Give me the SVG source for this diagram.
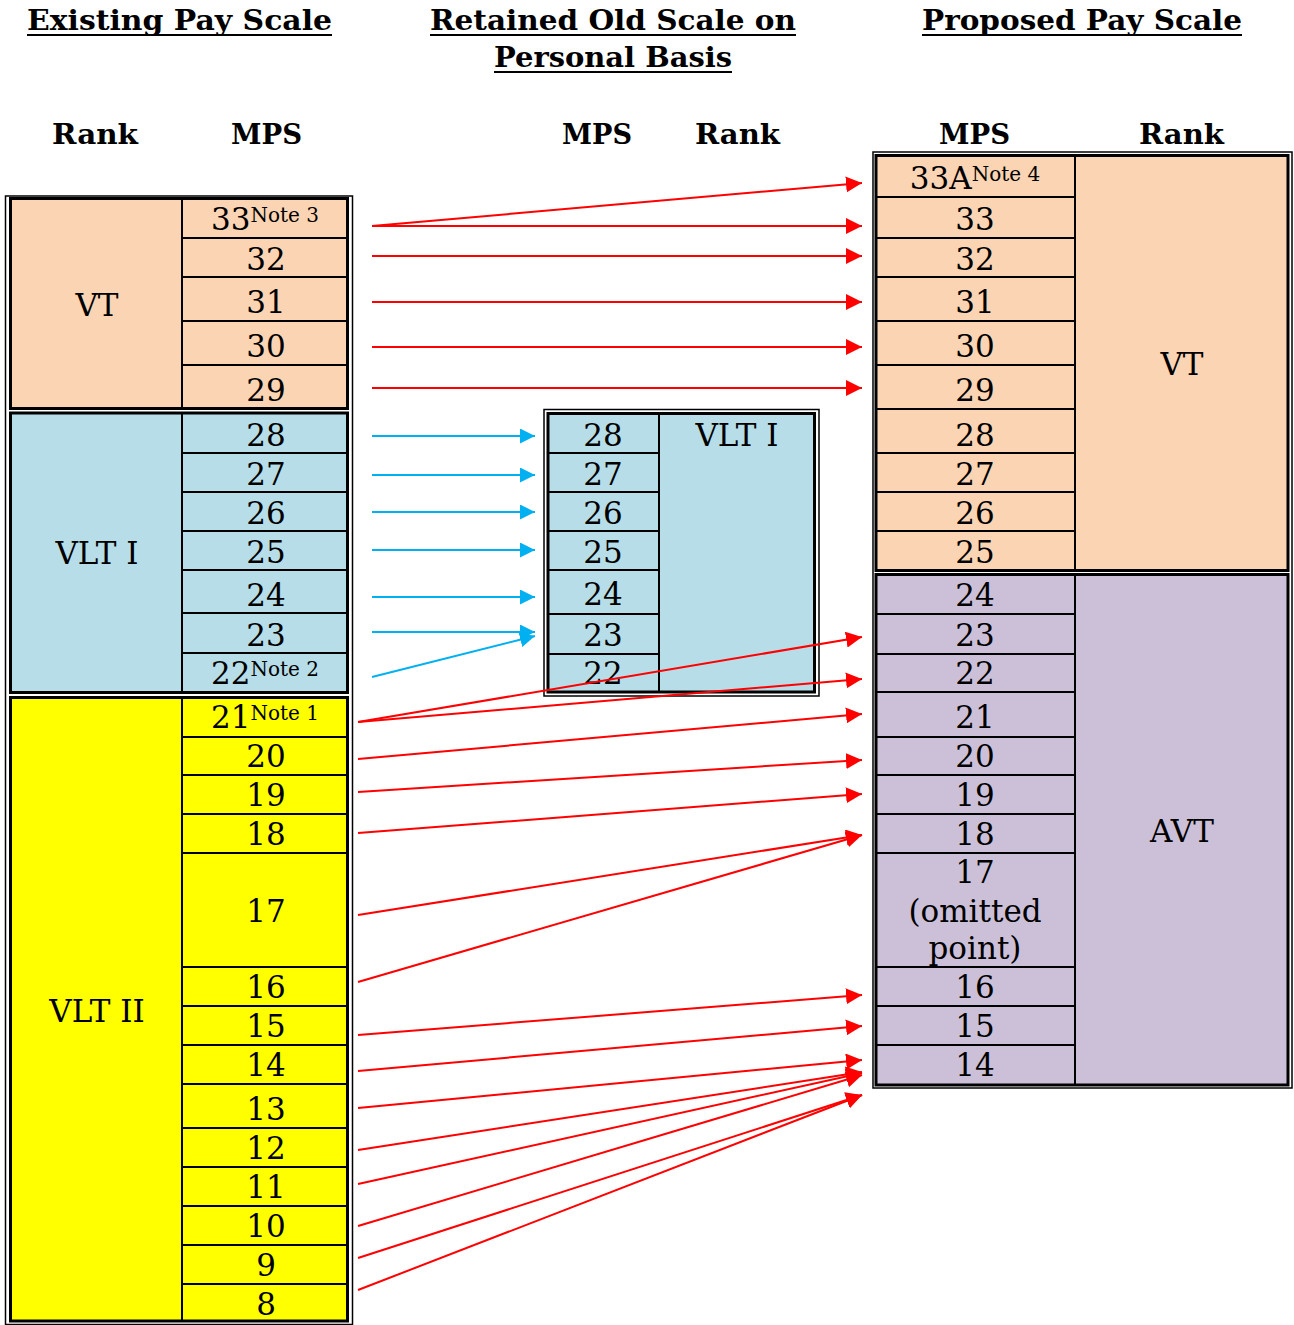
<svg xmlns="http://www.w3.org/2000/svg" width="1294" height="1325" viewBox="0 0 1294 1325">
<style>
.h{font-family:"DejaVu Serif",serif;font-weight:bold;font-size:28px;fill:#000}
.c{font-family:"DejaVu Serif",serif;font-size:31px;fill:#000;text-anchor:middle}
.sup{font-size:20px}
.cell{stroke:#000;stroke-width:2}
.sec{fill:none;stroke:#000;stroke-width:3}
.outer{fill:none;stroke:#000;stroke-width:1.5}
.ul{stroke:#000;stroke-width:2}
.vt{fill:#FBD4B4}.vl1{fill:#B6DDE8}.vl2{fill:#FFFF00}.avt{fill:#CCC0D9}
.ar{stroke:#FF0000;stroke-width:2;fill:none;marker-end:url(#ahR)}
.ab{stroke:#00B0F0;stroke-width:2;fill:none;marker-end:url(#ahB)}
</style>
<defs>
<marker id="ahR" markerUnits="userSpaceOnUse" markerWidth="16" markerHeight="16" viewBox="0 0 16 16" refX="16" refY="8" orient="auto"><path d="M0,0 L16,8 L0,16 z" fill="#FF0000"/></marker>
<marker id="ahB" markerUnits="userSpaceOnUse" markerWidth="15" markerHeight="15" viewBox="0 0 15 15" refX="15" refY="7.5" orient="auto"><path d="M0,0 L15,7.5 L0,15 z" fill="#00B0F0"/></marker>
</defs>
<rect width="1294" height="1325" fill="#fff"/>

<g id="headings">
<text class="h" x="27" y="30" textLength="305" lengthAdjust="spacingAndGlyphs">Existing Pay Scale</text>
<line class="ul" x1="27" y1="35" x2="332" y2="35"/>
<text class="h" x="430" y="30" textLength="366" lengthAdjust="spacingAndGlyphs">Retained Old Scale on</text>
<line class="ul" x1="430" y1="35" x2="796" y2="35"/>
<text class="h" x="494" y="67" textLength="238" lengthAdjust="spacingAndGlyphs">Personal Basis</text>
<line class="ul" x1="494" y1="72" x2="732" y2="72"/>
<text class="h" x="922" y="30" textLength="320" lengthAdjust="spacingAndGlyphs">Proposed Pay Scale</text>
<line class="ul" x1="922" y1="35" x2="1242" y2="35"/>
<text class="h" x="52" y="144" textLength="86" lengthAdjust="spacingAndGlyphs">Rank</text>
<text class="h" x="231" y="144" textLength="71" lengthAdjust="spacingAndGlyphs">MPS</text>
<text class="h" x="562" y="144" textLength="70" lengthAdjust="spacingAndGlyphs">MPS</text>
<text class="h" x="695" y="144" textLength="85" lengthAdjust="spacingAndGlyphs">Rank</text>
<text class="h" x="939" y="144" textLength="71" lengthAdjust="spacingAndGlyphs">MPS</text>
<text class="h" x="1139" y="144" textLength="85" lengthAdjust="spacingAndGlyphs">Rank</text>
</g>

<!-- Existing pay scale -->
<g id="existing">
<rect class="outer" x="5.5" y="196" width="347" height="1128.5"/>
<g id="ex-vt">
<rect class="cell vt" x="10.5" y="199" width="171.5" height="210"/>
<text class="c" x="97" y="316">VT</text>
</g>
<g id="ex-33"><rect class="cell vt" x="182" y="199" width="165.5" height="39"/><text class="c" x="265" y="230">33<tspan class="sup" dy="-8">Note 3</tspan></text></g>
<g id="ex-32"><rect class="cell vt" x="182" y="238" width="165.5" height="39"/><text class="c" x="266" y="270">32</text></g>
<g id="ex-31"><rect class="cell vt" x="182" y="277" width="165.5" height="44"/><text class="c" x="266" y="313">31</text></g>
<g id="ex-30"><rect class="cell vt" x="182" y="321" width="165.5" height="44"/><text class="c" x="266" y="357">30</text></g>
<g id="ex-29"><rect class="cell vt" x="182" y="365" width="165.5" height="44"/><text class="c" x="266" y="401">29</text></g>
<rect class="sec" x="10.5" y="198.5" width="337" height="210"/>

<g id="ex-vlt1">
<rect class="cell vl1" x="10.5" y="413" width="171.5" height="279"/>
<text class="c" x="97" y="564">VLT I</text>
</g>
<g id="ex-28"><rect class="cell vl1" x="182" y="413" width="165.5" height="40"/><text class="c" x="266" y="446">28</text></g>
<g id="ex-27"><rect class="cell vl1" x="182" y="453" width="165.5" height="39"/><text class="c" x="266" y="485">27</text></g>
<g id="ex-26"><rect class="cell vl1" x="182" y="492" width="165.5" height="39"/><text class="c" x="266" y="524">26</text></g>
<g id="ex-25"><rect class="cell vl1" x="182" y="531" width="165.5" height="39"/><text class="c" x="266" y="563">25</text></g>
<g id="ex-24"><rect class="cell vl1" x="182" y="570" width="165.5" height="43"/><text class="c" x="266" y="606">24</text></g>
<g id="ex-23"><rect class="cell vl1" x="182" y="613" width="165.5" height="40"/><text class="c" x="266" y="646">23</text></g>
<g id="ex-22"><rect class="cell vl1" x="182" y="653" width="165.5" height="39"/><text class="c" x="265" y="684">22<tspan class="sup" dy="-8">Note 2</tspan></text></g>
<rect class="sec" x="10.5" y="413" width="337" height="279.5"/>

<g id="ex-vlt2">
<rect class="cell vl2" x="10.5" y="697.5" width="171.5" height="623.5"/>
<text class="c" x="97" y="1022">VLT II</text>
</g>
<g id="ex-21"><rect class="cell vl2" x="182" y="697.5" width="165.5" height="39.5"/><text class="c" x="265" y="728">21<tspan class="sup" dy="-8">Note 1</tspan></text></g>
<g id="ex-20"><rect class="cell vl2" x="182" y="737" width="165.5" height="38"/><text class="c" x="266" y="767">20</text></g>
<g id="ex-19"><rect class="cell vl2" x="182" y="775" width="165.5" height="39"/><text class="c" x="266" y="806">19</text></g>
<g id="ex-18"><rect class="cell vl2" x="182" y="814" width="165.5" height="39"/><text class="c" x="266" y="845">18</text></g>
<g id="ex-17"><rect class="cell vl2" x="182" y="853" width="165.5" height="114"/><text class="c" x="266" y="922">17</text></g>
<g id="ex-16"><rect class="cell vl2" x="182" y="967" width="165.5" height="39"/><text class="c" x="266" y="998">16</text></g>
<g id="ex-15"><rect class="cell vl2" x="182" y="1006" width="165.5" height="39"/><text class="c" x="266" y="1037">15</text></g>
<g id="ex-14"><rect class="cell vl2" x="182" y="1045" width="165.5" height="39"/><text class="c" x="266" y="1076">14</text></g>
<g id="ex-13"><rect class="cell vl2" x="182" y="1084" width="165.5" height="44"/><text class="c" x="266" y="1120">13</text></g>
<g id="ex-12"><rect class="cell vl2" x="182" y="1128" width="165.5" height="39"/><text class="c" x="266" y="1159">12</text></g>
<g id="ex-11"><rect class="cell vl2" x="182" y="1167" width="165.5" height="39"/><text class="c" x="266" y="1198">11</text></g>
<g id="ex-10"><rect class="cell vl2" x="182" y="1206" width="165.5" height="39"/><text class="c" x="266" y="1237">10</text></g>
<g id="ex-9"><rect class="cell vl2" x="182" y="1245" width="165.5" height="39"/><text class="c" x="266" y="1276">9</text></g>
<g id="ex-8"><rect class="cell vl2" x="182" y="1284" width="165.5" height="37"/><text class="c" x="266" y="1315">8</text></g>
<rect class="sec" x="10.5" y="697.5" width="337" height="623.5"/>
</g>

<!-- Retained old scale -->
<g id="retained">
<rect class="outer" x="544" y="409.5" width="275" height="286.5"/>
<g id="rt-vlt1"><rect class="cell vl1" x="659" y="413.5" width="155.5" height="278.5"/><text class="c" x="737" y="446">VLT I</text></g>
<g id="rt-28"><rect class="cell vl1" x="548" y="413.5" width="111" height="39.5"/><text class="c" x="603" y="446">28</text></g>
<g id="rt-27"><rect class="cell vl1" x="548" y="453" width="111" height="39"/><text class="c" x="603" y="485">27</text></g>
<g id="rt-26"><rect class="cell vl1" x="548" y="492" width="111" height="39"/><text class="c" x="603" y="524">26</text></g>
<g id="rt-25"><rect class="cell vl1" x="548" y="531" width="111" height="39"/><text class="c" x="603" y="563">25</text></g>
<g id="rt-24"><rect class="cell vl1" x="548" y="570" width="111" height="44"/><text class="c" x="603" y="605">24</text></g>
<g id="rt-23"><rect class="cell vl1" x="548" y="614" width="111" height="40"/><text class="c" x="603" y="646">23</text></g>
<g id="rt-22"><rect class="cell vl1" x="548" y="654" width="111" height="38"/><text class="c" x="603" y="684">22</text></g>
<rect class="sec" x="548" y="413.5" width="266.5" height="278.5"/>
</g>

<!-- Proposed pay scale -->
<g id="proposed">
<rect class="outer" x="873" y="152" width="419" height="936"/>
<g id="pr-vt"><rect class="cell vt" x="1075" y="155.5" width="213" height="415"/><text class="c" x="1182" y="375">VT</text></g>
<g id="pr-33A"><rect class="cell vt" x="876" y="155.5" width="199" height="41.5"/><text class="c" x="975" y="188.5">33A<tspan class="sup" dy="-8">Note 4</tspan></text></g>
<g id="pr-33"><rect class="cell vt" x="876" y="197" width="199" height="41"/><text class="c" x="975" y="230">33</text></g>
<g id="pr-32"><rect class="cell vt" x="876" y="238" width="199" height="39"/><text class="c" x="975" y="270">32</text></g>
<g id="pr-31"><rect class="cell vt" x="876" y="277" width="199" height="44"/><text class="c" x="975" y="313">31</text></g>
<g id="pr-30"><rect class="cell vt" x="876" y="321" width="199" height="44"/><text class="c" x="975" y="357">30</text></g>
<g id="pr-29"><rect class="cell vt" x="876" y="365" width="199" height="44"/><text class="c" x="975" y="401">29</text></g>
<g id="pr-28"><rect class="cell vt" x="876" y="409" width="199" height="44"/><text class="c" x="975" y="446">28</text></g>
<g id="pr-27"><rect class="cell vt" x="876" y="453" width="199" height="39"/><text class="c" x="975" y="485">27</text></g>
<g id="pr-26"><rect class="cell vt" x="876" y="492" width="199" height="39"/><text class="c" x="975" y="524">26</text></g>
<g id="pr-25"><rect class="cell vt" x="876" y="531" width="199" height="39.5"/><text class="c" x="975" y="563">25</text></g>
<rect class="sec" x="876" y="155.5" width="412" height="415"/>

<g id="pr-avt"><rect class="cell avt" x="1075" y="574.5" width="213" height="510.5"/><text class="c" x="1182" y="842">AVT</text></g>
<g id="pr-24"><rect class="cell avt" x="876" y="574.5" width="199" height="39.5"/><text class="c" x="975" y="606">24</text></g>
<g id="pr-23"><rect class="cell avt" x="876" y="614" width="199" height="40"/><text class="c" x="975" y="646">23</text></g>
<g id="pr-22"><rect class="cell avt" x="876" y="654" width="199" height="38"/><text class="c" x="975" y="684">22</text></g>
<g id="pr-21"><rect class="cell avt" x="876" y="692" width="199" height="45"/><text class="c" x="975" y="728">21</text></g>
<g id="pr-20"><rect class="cell avt" x="876" y="737" width="199" height="38"/><text class="c" x="975" y="767">20</text></g>
<g id="pr-19"><rect class="cell avt" x="876" y="775" width="199" height="39"/><text class="c" x="975" y="806">19</text></g>
<g id="pr-18"><rect class="cell avt" x="876" y="814" width="199" height="39"/><text class="c" x="975" y="845">18</text></g>
<g id="pr-17"><rect class="cell avt" x="876" y="853" width="199" height="114"/><text class="c" x="975" y="883">17</text><text class="c" x="975" y="921.5">(omitted</text><text class="c" x="975" y="958.5">point)</text></g>
<g id="pr-16"><rect class="cell avt" x="876" y="967" width="199" height="39"/><text class="c" x="975" y="998">16</text></g>
<g id="pr-15"><rect class="cell avt" x="876" y="1006" width="199" height="39"/><text class="c" x="975" y="1037">15</text></g>
<g id="pr-14"><rect class="cell avt" x="876" y="1045" width="199" height="40"/><text class="c" x="975" y="1076">14</text></g>
<rect class="sec" x="876" y="574.5" width="412" height="510.5"/>
</g>

<g id="connectors">
<line class="ar" x1="372" y1="226" x2="862" y2="183"/>
<line class="ar" x1="372" y1="226" x2="862" y2="226"/>
<line class="ar" x1="372" y1="256" x2="862" y2="256"/>
<line class="ar" x1="372" y1="302" x2="862" y2="302"/>
<line class="ar" x1="372" y1="347" x2="862" y2="347"/>
<line class="ar" x1="372" y1="388" x2="862" y2="388"/>

<line class="ab" x1="372" y1="436" x2="535" y2="436"/>
<line class="ab" x1="372" y1="475" x2="535" y2="475"/>
<line class="ab" x1="372" y1="512" x2="535" y2="512"/>
<line class="ab" x1="372" y1="550" x2="535" y2="550"/>
<line class="ab" x1="372" y1="597" x2="535" y2="597"/>
<line class="ab" x1="372" y1="632" x2="535" y2="632"/>
<line class="ab" x1="372" y1="677" x2="535" y2="636"/>

<line class="ar" x1="358" y1="722" x2="862" y2="637"/>
<line class="ar" x1="358" y1="722" x2="862" y2="679"/>
<line class="ar" x1="358" y1="759" x2="862" y2="714"/>
<line class="ar" x1="358" y1="792" x2="862" y2="760"/>
<line class="ar" x1="358" y1="833" x2="862" y2="794"/>
<line class="ar" x1="358" y1="915" x2="862" y2="835"/>
<line class="ar" x1="358" y1="982" x2="862" y2="835"/>
<line class="ar" x1="358" y1="1035" x2="862" y2="995"/>
<line class="ar" x1="358" y1="1071" x2="862" y2="1026"/>
<line class="ar" x1="358" y1="1108" x2="862" y2="1060"/>
<line class="ar" x1="358" y1="1150" x2="862" y2="1072"/>
<line class="ar" x1="358" y1="1184" x2="862" y2="1073"/>
<line class="ar" x1="358" y1="1226" x2="862" y2="1075"/>
<line class="ar" x1="358" y1="1258" x2="862" y2="1095"/>
<line class="ar" x1="358" y1="1290" x2="862" y2="1095"/>
</g>
</svg>
